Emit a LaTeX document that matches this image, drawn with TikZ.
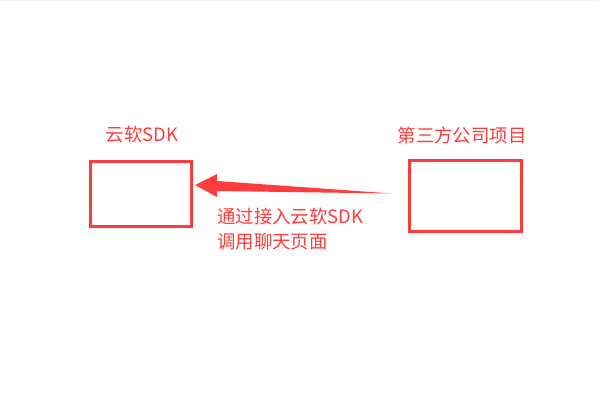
\documentclass[tikz,border=0pt]{standalone}
\usepackage{fontspec}
\setmainfont{Noto Sans CJK SC}
\definecolor{rr}{RGB}{255,60,60}
\begin{document}
\begin{tikzpicture}[x=1pt,y=-1pt,
  box/.style={draw=rr,line width=3pt,inner sep=0pt},
  lbl/.style={text=rr,font=\fontsize{18.4}{25}\selectfont,inner sep=0pt}]
\useasboundingbox (0,0) rectangle (598,400);
\fill[white] (0,0) rectangle (598,400);
\fill[black!6] (0,0) rectangle (598,1);
\node[box,minimum width=101pt,minimum height=65pt] (sdk) at (140.5,193.5) {};
\node[box,minimum width=112pt,minimum height=71pt] (proj) at (465,195.5) {};
\node[lbl] (sdkt) at (142,135) {云软SDK};
\node[lbl] (projt) at (462,135) {第三方公司项目};
\node[lbl,anchor=west,align=left] (note) at (217,229.5) {通过接入云软SDK\\调用聊天页面};
\coordinate (tail) at (392,193.5);
\coordinate (tip) at (195,185);
\fill[rr] (tip) -- (217,174) -- (217,181) -- (tail) -- (217,191) -- (217,197) -- cycle;
\end{tikzpicture}
\end{document}
